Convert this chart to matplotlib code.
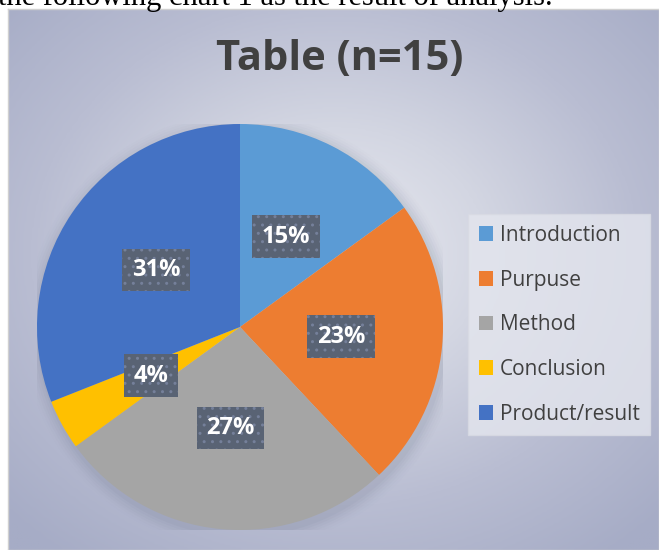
import matplotlib.pyplot as plt
import numpy as np
from matplotlib.colors import LinearSegmentedColormap
from matplotlib.patches import Patch, Circle

labels = ["Introduction", "Purpuse", "Method", "Conclusion", "Product/result"]
values = [15, 23, 27, 4, 31]
colors = ["#5B9BD5", "#ED7D31", "#A5A5A5", "#FFC000", "#4472C4"]
title = "Table (n=15)"
caption = "the following chart 1 as the result of analysis."

W, H = 659, 550
fig = plt.figure(figsize=(W / 100, H / 100), dpi=100)
fig.patch.set_facecolor("white")

# chart area background: radial gradient
x0, y0 = 8, 9
bg = fig.add_axes([x0 / W, 0, 1 - x0 / W, 1 - y0 / H])
yy, xx = np.mgrid[0:200, 0:240]
cx, cy = 0.5 * 240, 0.45 * 200
r = np.sqrt(((xx - cx) / 240) ** 2 + ((yy - cy) / 200) ** 2) / 0.7
cmap = LinearSegmentedColormap.from_list("bg", ["#e9eaf1", "#d3d6e2", "#b9bdd2", "#a6acc6"])
bg.imshow(np.clip(r, 0, 1), cmap=cmap, vmin=0, vmax=1, aspect="auto", origin="upper")
bg.set_xticks([])
bg.set_yticks([])
for s in bg.spines.values():
    s.set_color("#d0d0d0")
    s.set_linewidth(1.0)

# pie
R = 203
pcx, pcy = 240, H - 327
ax = fig.add_axes([(pcx - R) / W, (pcy - R) / H, 2 * R / W, 2 * R / H])
ax.set_xlim(-1, 1)
ax.set_ylim(-1, 1)
ax.axis("off")

# soft shadow
for i, a in enumerate(np.linspace(0.05, 0.01, 6)):
    ax.add_patch(Circle((0.01, -0.02), 1.0 + 0.012 * (i + 1), color="#606a80", alpha=a, lw=0, zorder=0))

wedges, texts, autotexts = ax.pie(
    values, colors=colors, startangle=90, counterclock=False, radius=1,
    autopct=lambda p: f"{p:.0f}%", pctdistance=0.5,
    wedgeprops=dict(linewidth=0),
    textprops=dict(color="white", fontsize=17, fontweight="bold", family="Open Sans"),
)
for t in autotexts:
    t.set_bbox(dict(boxstyle="square,pad=0.4", facecolor="#596374", edgecolor="#75809a",
                    hatch="..", linewidth=0))
ax.set_xlim(-1, 1)
ax.set_ylim(-1, 1)

# title
fig.text(340 / W, 1 - 60 / H, title, ha="center", va="center", fontsize=30,
         fontweight="bold", color="#404040", family="Open Sans")

# caption cut off at top
fig.text(-2 / W, 1 - 5 / H, caption, ha="left", va="baseline", fontsize=22,
         family="Liberation Serif", color="black")

# legend
handles = [Patch(facecolor=c, edgecolor="none") for c in colors]
leg = fig.legend(handles, labels, loc="upper left", bbox_to_anchor=(458 / W, 1 - 204 / H),
                 frameon=True, fancybox=False, labelspacing=1.14,
                 handlelength=0.7, handleheight=0.7, handletextpad=0.3,
                 borderpad=0.5, prop=dict(family="Open Sans", size=15))
leg.get_frame().set_facecolor("#e4e6ee")
leg.get_frame().set_edgecolor("#d8dae3")
leg.get_frame().set_alpha(0.8)
for t in leg.get_texts():
    t.set_color("#404040")

fig.savefig("out.png", dpi=100)
